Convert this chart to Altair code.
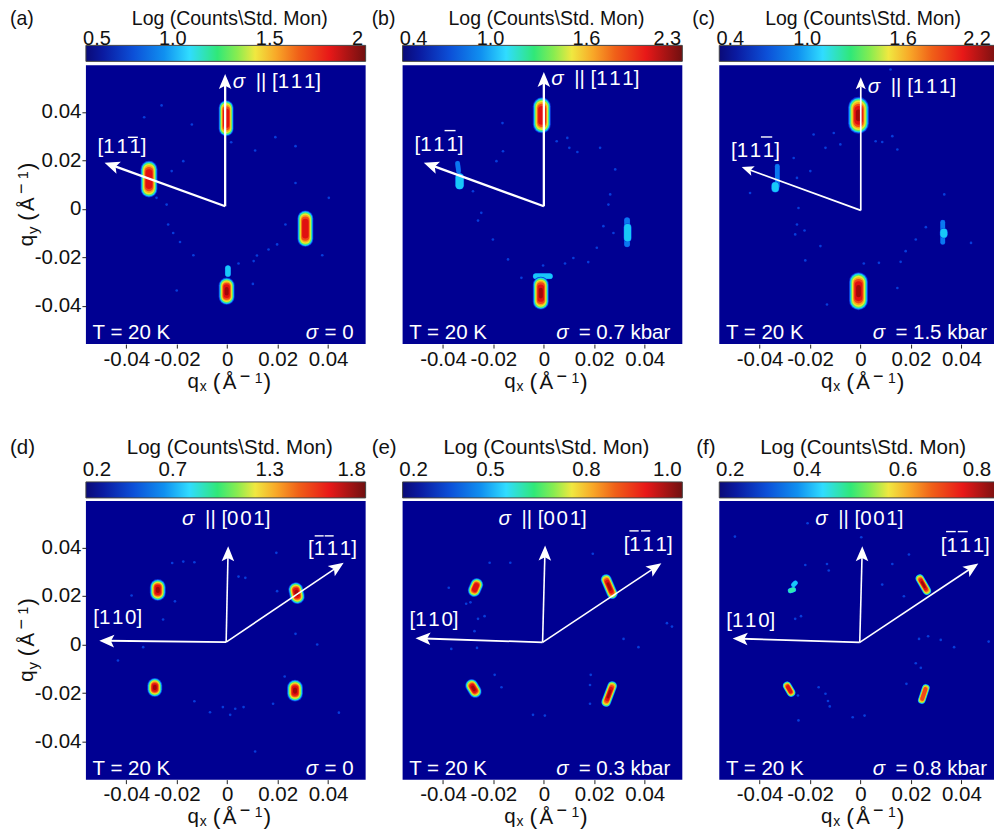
import altair as alt

FONT = "Liberation Sans"
BG = "#000092"
X_DOMAIN = [-0.056, 0.0549]
Y_DOMAIN = [-0.0557, 0.0592]
TICKS_X = [-0.04, -0.02, 0, 0.02, 0.04]
TICKS_Y = [-0.04, -0.02, 0, 0.02, 0.04]

STOP_POS = [0, 0.06, 0.17, 0.28, 0.37, 0.47, 0.54, 0.605, 0.68, 0.76, 0.87, 1]
STOP_COL = ["#0a0a78", "#0a1aa0", "#0c50d8", "#1090f0", "#30dcff", "#30e878", "#88ec50",
            "#f0e840", "#f8a828", "#f06018", "#e81818", "#701010"]

TIER_COL = ["#0a30d8", "#0a78f0", "#18c8f8", "#30e8b0", "#70f050", "#e8e830",
            "#f8a818", "#f04818", "#e01010", "#a00808"]
TIER_FRAC = [0, 0.08, 0.14, 0.20, 0.26, 0.32, 0.42, 0.50, 0.60, 0.75]
TIER_LEN = [1, 1, 1, 1, 0.98, 0.95, 0.9, 0.8, 0.65, 0.4]

# peaks: qx, qy, half-vector hx, hy, outer width, number of intensity tiers
PEAKS_A = [(-.0004, .0374, 0, .0043, 15, 9), (-.0310, .0123, 0, .0041, 17, 9),
           (.0310, -.0081, 0, .0042, 16, 9), (.0003, -.0256, 0, .0012, 6, 3),
           (-.0002, -.0339, 0, .0023, 16, 10)]
PEAKS_B = [(-.0008, .0386, 0, .0037, 18, 9), (-.0340, .0172, -.0002, .0016, 5, 2),
           (-.0334, .0114, 0, .0016, 9, 3), (.0330, -.0096, 0, .0049, 6, 2),
           (.0332, -.0098, 0, .0022, 8, 3),
           (-.0004, -.0277, .0028, 0, 6, 3), (-.0012, -.0347, 0, .0035, 16, 10)]
PEAKS_C = [(-.0008, .0386, 0, .0033, 21, 10), (-.0330, .0135, 0, .0041, 5, 2),
           (-.0338, .0090, 0, .0006, 8, 3), (.0326, -.0096, 0, .0041, 5, 2),
           (.0330, -.0100, 0, .0004, 8, 3), (-.0008, -.0339, 0, .0039, 19, 10)]
PEAKS_D = [(-.0275, .0225, 0, .0012, 16, 10), (.0275, .0212, -.0003, .0014, 15, 10),
           (-.0287, -.0177, 0, .0008, 15, 10), (.0269, -.0190, 0, .0012, 16, 10)]
PEAKS_E = [(-.0271, .0235, .0005, .0012, 13, 9), (.0259, .0239, -.0012, .0029, 11, 10),
           (-.0279, -.0181, -.0007, .0012, 13, 10), (.0259, -.0204, .0012, .0033, 10, 10)]
PEAKS_F = [(-.0262, .0250, .0004, .0004, 5, 3), (-.0272, .0224, .0006, .0002, 5.5, 4),
           (.0249, .0247, -.0014, .0025, 9, 10), (-.0283, -.0184, -.0008, .0014, 9, 9),
           (.0251, -.0204, .0008, .0025, 8, 8)]

SPECK_A = [(-.0260, .0427), (-.0329, .0378), (-.0140, .0348), (-.0174, .0197), (.0016, .0275), (.0111, .0241),
           (.0191, .0296), (.0271, .0259), (.0271, .0107), (.0403, .0046), (-.0220, .0156), (-.0280, .0046),
           (-.0240, .0018), (-.0234, -.0064), (-.0214, -.0099), (-.0187, -.0136), (-.0134, -.0191), (.0045, -.0225),
           (.0118, -.0192), (.0164, -.0167), (.0198, -.0146), (.0105, -.0215), (.0231, -.0064), (.0102, -.0309),
           (.0377, -.0191), (-.0200, -.0336)]
SPECK_B = [(-.0164, .0354), (.0133, .0235), (.0101, .0252), (.0093, .0293), (.0051, .0279), (-.0162, .0238),
           (-.0188, .0197), (-.0281, .0073), (-.0248, -.0016), (.0263, .0060), (.0256, .0018), (.0283, .0163),
           (.0223, .0252), (-.0261, -.0048), (-.0202, -.0126), (-.0142, -.0208), (-.0089, -.0284), (.0084, -.0225),
           (.0117, -.0202), (.0176, -.0219), (.0236, -.0071), (.0276, -.0099), (.0210, -.0160), (-.0003, -.0233)]
SPECK_C = [(-.0106, .0313), (-.0139, .0252), (-.0186, .0307), (-.0080, .0266), (.0060, .0279), (.0086, .0276),
           (.0146, .0245), (.0126, .0300), (-.0265, .0210), (-.0199, .0156), (-.0252, .0128), (-.0246, .0004),
           (-.0438, .0066), (.0332, .0060), (.0119, .0575), (-.0222, -.0089), (-.0259, -.0105), (-.0252, -.0064),
           (-.0159, -.0153), (-.0219, -.0212), (.0013, -.0225), (.0073, -.0222), (.0159, -.0218), (.0179, -.0174),
           (.0219, -.0126), (.0259, -.0075), (-.0133, -.0394), (.0438, -.0140), (.0146, -.0326)]
SPECK_D = [(-.0174, .0342), (-.0130, .0339), (-.0218, .0336), (.0045, .0280), (.0072, .0275), (.0198, .0220),
           (.0195, .0378), (-.0207, .0178), (-.0254, .0103), (-.0379, .0202), (.0271, .0044), (-.0433, -.0066),
           (-.0130, -.0234), (-.0068, -.0279), (-.0017, -.0258), (.0012, -.0290), (.0032, -.0265), (.0065, -.0258),
           (.0182, -.0244), (.0228, -.0132), (.0443, -.0281), (.0111, -.0441), (.0357, 0), (-.0333, -.0011)]
SPECK_E = [(-.0215, .0337), (-.0133, .0337), (-.0377, .0234), (-.0308, .0168), (-.0291, .0174), (-.0235, .0117),
           (-.0261, .0106), (-.0275, .0055), (-.0367, -.0018), (-.0265, -.0014), (-.0195, -.0125), (-.0168, -.0176),
           (.0186, -.0125), (.0183, -.0167), (-.0043, -.0290), (.0004, -.0293), (.0375, -.0011), (.0488, .0088),
           (.0508, .0074), (.0194, .0374), (.0289, .0209), (.0316, .0023), (.0183, -.0244)]
SPECK_F = [(-.0219, .0328), (-.0210, .0500), (-.0133, .0332), (-.0126, .0305), (-.0259, .0106), (-.0236, .0117),
           (-.0498, .0445), (.0003, .0442), (.0192, .0371), (.0126, .0332), (.0086, .0247), (.0172, .0199),
           (.0268, .0034), (.0232, .0023), (.0318, .0019), (.0371, -.0011), (.0508, .0012), (.0219, -.0077),
           (.0239, -.0096), (.0182, -.0162), (-.0166, -.0176), (-.0248, -.0210), (-.0139, -.0203), (-.0122, -.0255),
           (-.0129, -.0233), (-.0031, -.0300), (.0016, -.0293), (-.0246, -.0313)]

# arrows: origin qx, qy, tip qx, qy, heading deg, line width, head size
ARROW_A = [(-.0008, .0011, -.0008, .0556, 0, 2.3, 900), (-.0008, .0011, -.0486, .0191, 290, 2.3, 900)]
ARROW_B = [(0, .0011, 0, .0565, 0, 2.3, 900), (0, .0011, -.0476, .0191, 290, 2.3, 900)]
ARROW_C = [(.0001, -.0006, .0001, .0543, 0, 1.7, 576), (.0001, -.0006, -.0471, .0173, 290, 1.7, 576)]
ARROW_D = [(-.0004, .0010, .0004, .0405, 1, 1.6, 900), (-.0004, .0010, .0462, .0337, 56, 1.6, 900),
           (-.0004, .0010, -.0507, .0016, 272, 1.8, 900)]
ARROW_E = [(-.0005, .0009, .0005, .0408, 1, 1.6, 900), (-.0005, .0009, .0466, .0335, 56, 1.6, 900),
           (-.0005, .0009, -.0509, .0026, 272, 1.8, 900)]
ARROW_F = [(-.0003, .0009, .0007, .0405, 1, 1.6, 900), (-.0003, .0009, .0467, .0334, 56, 1.6, 900),
           (-.0003, .0009, -.0507, .0025, 272, 1.8, 900)]

CB_POS = [11, 88, 184, 265]
HEAD_PATH = "M0,0L-0.42,1L0,0.78L0.42,1Z"
HS = "\u200a"
L111 = f"[1{HS}1{HS}1]"
L001 = f"[0{HS}0{HS}1]"
L110 = f"[1{HS}1{HS}0]"

PANELS = [
    dict(tag="(a)", tag_x=-76, top=True, peaks=PEAKS_A, speck=SPECK_A, arrows=ARROW_A,
         cb=["0.5", "1.0", "1.5", "2"], cb_x=[11, 87, 184, 272], y_axis=True,
         sigma_dir=(147, 23, "|| " + L111), hkl=[(11.7, 88, L111)], bars=[(42, 52, 72)],
         stress="= 0", sigma_x=220),
    dict(tag="(b)", tag_x=-31, top=True, peaks=PEAKS_B, speck=SPECK_B, arrows=ARROW_B,
         cb=["0.4", "1.0", "1.6", "2.3"], cb_x=CB_POS, y_axis=False,
         sigma_dir=(148.7, 20, "|| " + L111), hkl=[(12, 86, L111)], bars=[(42, 53, 65.3)],
         stress="= 0.7 kbar", sigma_x=153.7),
    dict(tag="(c)", tag_x=-27, top=True, peaks=PEAKS_C, speck=SPECK_C, arrows=ARROW_C,
         cb=["0.4", "1.0", "1.6", "2.2"], cb_x=[11, 88, 184, 258], y_axis=False,
         sigma_dir=(148.7, 28, "|| " + L111), hkl=[(11.7, 92, L111)], bars=[(41.7, 53, 71.7)],
         stress="= 1.5 kbar", sigma_x=153.7),
    dict(tag="(d)", tag_x=-76, top=False, peaks=PEAKS_D, speck=SPECK_D, arrows=ARROW_D,
         cb=["0.2", "0.7", "1.3", "1.8"], cb_x=[11, 87, 184, 266], y_axis=True,
         sigma_dir=(96.3, 24, "|| " + L001), hkl=[(7.3, 123.3, L110), (222.3, 54, L111)],
         bars=[(229, 238, 35), (239, 248, 35)], stress="= 0", sigma_x=220),
    dict(tag="(e)", tag_x=-31, top=False, peaks=PEAKS_E, speck=SPECK_E, arrows=ARROW_E,
         cb=["0.2", "0.5", "0.8", "1.0"], cb_x=CB_POS, y_axis=False,
         sigma_dir=(96, 24, "|| " + L001), hkl=[(7, 125, L110), (221.3, 50, L111)],
         bars=[(227, 236.3, 30), (238.7, 248, 30)], stress="= 0.3 kbar", sigma_x=153.7),
    dict(tag="(f)", tag_x=-23, top=False, peaks=PEAKS_F, speck=SPECK_F, arrows=ARROW_F,
         cb=["0.2", "0.4", "0.6", "0.8"], cb_x=[11, 88, 184, 258], y_axis=False,
         sigma_dir=(96, 24, "|| " + L001), hkl=[(7, 126, L110), (221.7, 51, L111)],
         bars=[(227, 236.7, 30.7), (238.7, 248.7, 30.7)], stress="= 0.8 kbar", sigma_x=153.7),
]

# axis-title pieces: text, offset along the axis, offset across it, font size
TITLE_PARTS = [("(", 25.3, 1, 23), ("Å", 35.3, 1, 20.5), ("\u2212", 52.3, -6.4, 18),
               ("1", 67.3, -5.3, 14), (")", 76, 1, 23)]

TXT = 20.5
xs = alt.Scale(domain=X_DOMAIN, nice=False, zero=False)
ys = alt.Scale(domain=Y_DOMAIN, nice=False, zero=False)
LABEL_EXPR = "datum.value==0?'0':(datum.value<0?'-':'')+format(abs(datum.value),'.2f')"
ONE = alt.Data(values=[{"k": 0}])


def txt(s, x, y, size=TXT, color="#111111", align="left", angle=0, style="normal"):
    return alt.Chart(ONE).mark_text(
        text=s, font=FONT, fontSize=size, color=color, align=align, baseline="alphabetic",
        angle=angle, fontStyle=style
    ).encode(x=alt.value(x), y=alt.value(y))


def panel(p):
    axis_x = alt.Axis(values=TICKS_X, title=None, labelExpr=LABEL_EXPR, grid=False, domain=False,
                      tickSize=4, tickColor="#222222", labelFontSize=TXT, labelFont=FONT,
                      labelColor="#111111", labelPadding=1, labelFlush=False, labelOverlap=False)
    axis_y = (alt.Axis(values=TICKS_Y, title=None, labelExpr=LABEL_EXPR, grid=False, domain=False,
                       tickSize=4, tickColor="#222222", labelFontSize=TXT, labelFont=FONT,
                       labelColor="#111111", labelPadding=1, labelFlush=False, labelOverlap=False)
              if p["y_axis"] else None)

    speck_rows = [{"x": a, "y": b} for a, b in p["speck"]]
    layers = [
        alt.Chart(alt.Data(values=speck_rows)).mark_circle(size=7, color="#0848e8", opacity=0.85).encode(
            x=alt.X("x:Q", scale=xs, axis=axis_x), y=alt.Y("y:Q", scale=ys, axis=axis_y))
    ]

    rows = []
    for x, y, hx, hy, w, n in p["peaks"]:
        for i in range(n):
            ww = w * (1 - TIER_FRAC[i])
            ln = TIER_LEN[i]
            rows.append({"x": x - hx * ln, "y": y - hy * ln, "x2": x + hx * ln, "y2": y + hy * ln,
                         "w": ww, "c": TIER_COL[i]})
    layers.append(
        alt.Chart(alt.Data(values=rows)).mark_rule(strokeCap="round").encode(
            x=alt.X("x:Q", scale=xs, axis=axis_x), y=alt.Y("y:Q", scale=ys, axis=axis_y),
            x2="x2:Q", y2="y2:Q",
            strokeWidth=alt.StrokeWidth("w:Q", scale=None, legend=None),
            color=alt.Color("c:N", scale=None, legend=None)))

    a_rows = [{"x": a, "y": b, "x2": a + (c - a) * 0.93, "y2": b + (d - b) * 0.93,
               "tx": c, "ty": d, "ang": ang, "lw": lw, "hs": hs}
              for a, b, c, d, ang, lw, hs in p["arrows"]]
    a_data = alt.Data(values=a_rows)
    layers.append(
        alt.Chart(a_data).mark_rule(color="white").encode(
            x=alt.X("x:Q", scale=xs, axis=axis_x), y=alt.Y("y:Q", scale=ys, axis=axis_y),
            x2="x2:Q", y2="y2:Q", strokeWidth=alt.StrokeWidth("lw:Q", scale=None, legend=None)))
    layers.append(
        alt.Chart(a_data).mark_point(shape=HEAD_PATH, filled=True, color="white", opacity=1, strokeWidth=0).encode(
            x=alt.X("tx:Q", scale=xs, axis=axis_x), y=alt.Y("ty:Q", scale=ys, axis=axis_y),
            angle=alt.Angle("ang:Q", scale=None),
            size=alt.Size("hs:Q", scale=None, legend=None)))

    # colour bar
    cb_top, cb_bot = (-20, -4) if p["top"] else (-19, -3)
    grad = alt.Gradient(gradient="linear", x1=0, x2=1, y1=0, y2=0,
                        stops=[alt.GradientStop(offset=o, color=c) for o, c in zip(STOP_POS, STOP_COL)])
    layers.append(
        alt.Chart(alt.Data(values=[{"a": X_DOMAIN[0], "b": X_DOMAIN[1]}])).mark_rect(
            color=grad, stroke="#444444", strokeWidth=1).encode(
            x=alt.X("a:Q", scale=xs, axis=axis_x), x2="b:Q", y=alt.value(cb_top), y2=alt.value(cb_bot)))

    head_y = -40.5 if p["top"] else -47
    tick_y = -20.5 if p["top"] else -25
    layers.append(txt("Log (Counts\\Std. Mon)", 144, head_y, size=19.5 if p["top"] else TXT, align="center"))
    layers.append(txt(p["tag"], p["tag_x"], head_y, size=19.5 if p["top"] else TXT))
    for s, x in zip(p["cb"], p["cb_x"]):
        layers.append(txt(s, x, tick_y, size=20 if p["top"] else TXT, align="center"))

    # white annotations
    sx, sy, srest = p["sigma_dir"]
    layers.append(txt("\u03c3", sx, sy, color="white", style="italic"))
    layers.append(txt(srest, sx + 23, sy, color="white"))
    for x, y, s in p["hkl"]:
        layers.append(txt(s, x, y, color="white"))
    for x1, x2, y in p["bars"]:
        layers.append(alt.Chart(ONE).mark_rule(color="white", strokeWidth=1.4).encode(
            x=alt.value(x1), x2=alt.value(x2), y=alt.value(y)))
    layers.append(txt("T = 20 K", 6.7, 274, color="white"))
    layers.append(txt("\u03c3", p["sigma_x"], 274, color="white", style="italic"))
    layers.append(txt(p["stress"], 268, 274, color="white", align="right"))

    # x title
    base = 323 if p["top"] else 322
    layers.append(txt("q", 101.7, base))
    layers.append(txt("x", 114, base + 3, size=14))
    for s, off, d, size in TITLE_PARTS:
        layers.append(txt(s, 101.7 + off, base + d, size=size))
    # y title
    if p["y_axis"]:
        layers.append(txt("q", -53, 181, angle=270))
        layers.append(txt("y", -48, 181 - 12.3, size=15, angle=270))
        for s, off, d, size in TITLE_PARTS:
            layers.append(txt(s, -53 + d, 181 - off, size=size, angle=270))

    return alt.layer(*layers).properties(
        width=280, height=279,
        view=alt.ViewBackground(fill=BG, stroke=None))


chart = alt.concat(*[panel(p) for p in PANELS], columns=3, bounds="flush",
                   spacing={"column": 37, "row": 157}).properties(
    padding={"left": 2, "top": 0, "right": -6, "bottom": 0},
    background="white")

chart.save("out.html", embed_options={"renderer": "svg", "actions": False})
